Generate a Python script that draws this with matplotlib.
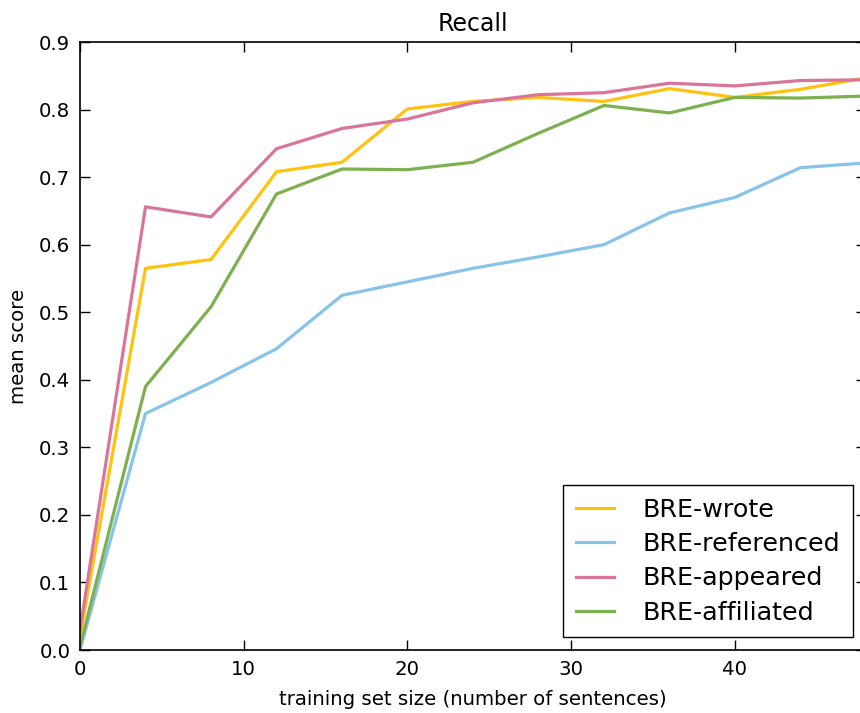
import numpy as np
import matplotlib
matplotlib.use('Agg')
import matplotlib.pyplot as plt

# training set sizes and mean recall per relation
train_size = [0, 4, 8, 12, 16, 20, 24, 28, 32, 36, 40, 44, 48]
recall_wrote = [0.02, 0.565, 0.578, 0.708, 0.722, 0.801, 0.812, 0.818, 0.812, 0.831, 0.818, 0.830, 0.847]
recall_referenced = [0.0, 0.350, 0.396, 0.446, 0.525, 0.545, 0.565, 0.582, 0.600, 0.647, 0.670, 0.714, 0.721]
recall_appeared = [0.03, 0.656, 0.641, 0.742, 0.772, 0.786, 0.810, 0.822, 0.825, 0.839, 0.835, 0.843, 0.844]
recall_affiliated = [0.005, 0.390, 0.508, 0.675, 0.712, 0.711, 0.722, 0.765, 0.806, 0.795, 0.818, 0.817, 0.820]

series = [
    ('BRE-wrote', recall_wrote, '#ffc20e'),
    ('BRE-referenced', recall_referenced, '#88c3ea'),
    ('BRE-appeared', recall_appeared, '#d9759b'),
    ('BRE-affiliated', recall_affiliated, '#7db04f'),
]

fs = 14.2
plt.rcParams['font.family'] = 'DejaVu Sans'
plt.rcParams['font.size'] = fs

fig = plt.figure(figsize=(8.6, 7.13), dpi=100)
W, H = 860, 713
left, right, top, bottom = 80, 866, 42, 650
ax = fig.add_axes([left / W, (H - bottom) / H, (right - left) / W, (bottom - top) / H])

for name, vals, col in series:
    ax.plot(train_size, vals, color=col, lw=2.3, label=name)

ax.set_xlim(0, 48)
ax.set_ylim(0, 0.9)
ax.set_xticks([0, 10, 20, 30, 40])
ax.set_yticks(np.arange(0, 0.91, 0.1))
ax.tick_params(direction='in', top=True, right=True, length=7, width=1, labelsize=fs, pad=7)
for s in ax.spines.values():
    s.set_linewidth(1.2)

ax.set_title('Recall', fontsize=fs * 1.2, pad=8)
ax.set_xlabel('training set size (number of sentences)', fontsize=fs, labelpad=8)
ax.set_ylabel('mean score', fontsize=fs, labelpad=8)

leg = ax.legend(loc='lower right', fontsize=18.3, fancybox=False, framealpha=1,
                edgecolor='black', handlelength=1.5, handletextpad=1.15,
                labelspacing=0.4, borderpad=0.5, borderaxespad=0.5)
leg.get_frame().set_linewidth(1.0)

fig.savefig('out.png', dpi=100)
